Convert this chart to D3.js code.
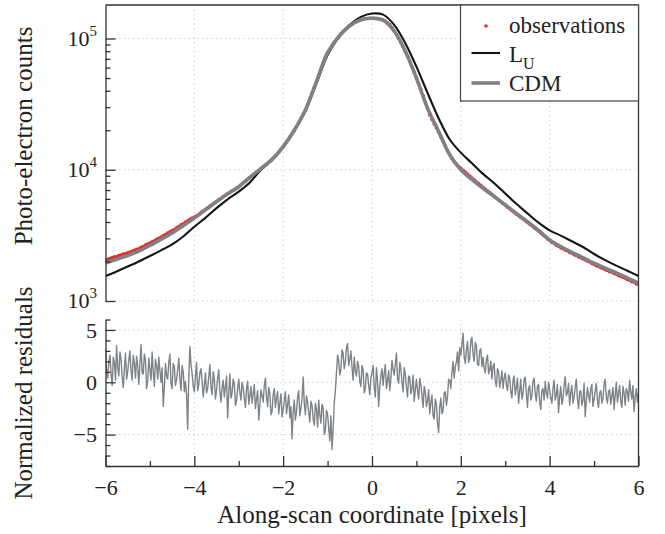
<!DOCTYPE html>
<html>
<head>
<meta charset="utf-8">
<script src="https://cdn.jsdelivr.net/npm/d3@7"></script>
<style>
  body { margin: 0; background: #fff; }
  svg, svg text { font-family: 'Liberation Serif', 'DejaVu Serif', serif; }
  text { fill: #222; }
  .grid line { stroke: #c4c4c4; stroke-width: 1; stroke-dasharray: 1.2,3.4; }
  .axis path, .axis line { stroke: #333; stroke-width: 1.3; }
  .axis text { font-size: 22px; fill: #222; }
  .spine { stroke: #333; stroke-width: 1.3; }
</style>
</head>
<body>
<svg></svg>
<script>
// ---- data ----
// observed LSF samples: -6 .. 6 px, step 0.05 px
var obsStart = -6, obsStep = 0.05;

var obsCounts = [
  2060, 2080, 2110, 2140, 2170, 2170, 2220, 2240, 2280, 2290, 2330, 2360, 2400, 2430, 2480, 2500, 2570, 2600, 2670, 2710,
  2760, 2820, 2880, 2950, 3010, 3070, 3140, 3210, 3290, 3360, 3440, 3510, 3610, 3690, 3800, 3880, 3990, 4090, 4200, 4290,
  4360, 4450, 4560, 4740, 4840, 5000, 5130, 5300, 5420, 5600, 5740, 5920, 6040, 6240, 6380, 6580, 6720, 6910, 7050, 7260,
  7420, 7650, 7930, 8150, 8430, 8700, 9010, 9300, 9620, 9850, 10150, 10450, 10800, 11150, 11550, 11950, 12430, 12950, 13550, 14250,
  14950, 15750, 16750, 17750, 18750, 19850, 21250, 22750, 24450, 26350, 28350, 31250, 34650, 38350, 42350, 46800, 52300, 58300, 64800, 71300,
  77000, 82000, 87100, 93400, 98500, 103600, 108600, 113600, 117600, 121500, 125400, 128800, 131700, 134600, 137100, 139100, 140500, 141500, 142200, 142500,
  142500, 142300, 141900, 140700, 139500, 137900, 135600, 132000, 127600, 121100, 114100, 107100, 100100, 93000, 86400, 79900, 73400, 66900, 60900, 55300,
  49800, 45400, 40900, 36800, 32800, 29300, 26100, 24100, 22300, 20800, 19300, 17800, 16450, 15200, 13950, 13000, 12150, 11500, 11050, 10600,
  10250, 9900, 9600, 9280, 8960, 8650, 8380, 8100, 7840, 7600, 7360, 7130, 6920, 6700, 6490, 6290, 6100, 5910, 5720, 5540,
  5380, 5180, 5040, 4870, 4750, 4590, 4470, 4320, 4210, 4080, 3970, 3840, 3740, 3610, 3520, 3400, 3300, 3180, 3090, 2970,
  2890, 2790, 2740, 2660, 2610, 2540, 2500, 2440, 2410, 2340, 2310, 2250, 2220, 2170, 2140, 2090, 2060, 2010, 1980, 1930,
  1900, 1860, 1830, 1790, 1770, 1730, 1710, 1670, 1660, 1620, 1600, 1560, 1545, 1510, 1490, 1455, 1440, 1400, 1390, 1350, 1335
];

// normalized residuals: -6 .. 6 px, step 0.025 px
var resStart = -6, resStep = 0.025;

var residuals = [
  3.2, 1.1, 0.4, 1.9, 2.6, 0.8, -0.3, 2.4, 1.9, 0.2, 3.5, 1.4, 0.6, 2.9, 2.2, 0.5, -0.5, 1.3, 2.8, 0.3,
  1.0, 2.2, 3.0, 1.1, 0.2, 2.6, 1.8, 0.4, 2.5, 1.5, -0.2, 1.7, 3.6, 0.9, 0.8, 2.7, 2.1, -0.6, 0.1, 2.3,
  1.2, 0.2, 2.9, 1.0, -0.4, 2.2, 1.6, 0.3, 2.4, 1.1, 0.0, 1.4, -2.3, -0.5, 1.8, 0.6, 0.3, 1.9, 2.7, -0.1,
  -0.6, 1.8, 1.5, -0.3, 0.2, 1.2, 2.3, 0.4, -0.8, 1.6, 1.0, -0.9, 0.1, -1.2, -4.5, 0.4, 3.4, 1.7, 0.8, -0.4,
  -0.9, 0.6, 1.9, -0.8, -0.2, 0.9, 1.3, 0.1, -1.4, -0.3, 0.9, -1.0, -0.6, 0.5, 1.7, -0.5, -1.2, 1.0, 0.3, -1.6,
  -0.8, 0.4, 1.2, -0.9, -1.9, -0.5, 0.2, -1.4, -0.4, 0.6, -3.4, -1.1, 0.8, -1.5, -1.0, 0.3, -0.1, -2.2, -1.8, -0.6,
  0.3, -1.0, -1.7, 0.0, -0.5, -1.5, -2.4, -0.6, 0.1, -2.1, -1.3, -0.4, -2.0, -1.1, -0.2, -2.5, -1.6, -0.8, -3.6, -2.2,
  -0.7, -1.3, -1.9, -0.3, 0.4, -1.4, -2.3, -0.5, -1.0, -3.1, -2.8, -1.2, -0.6, -2.4, -1.5, -0.9, -3.0, -2.0, -1.1, -3.3,
  -2.6, -1.8, -0.9, -3.0, -2.1, -1.2, -3.4, -2.3, -5.4, -2.9, -1.7, -3.6, -2.8, -1.4, -0.8, -3.2, -2.5, -1.6, 0.5, -2.0,
  -3.1, -1.3, -1.9, -2.9, -3.8, -1.8, -2.2, -3.5, -4.1, -2.0, -2.6, -4.3, -1.7, -3.1, -3.9, -2.1, -2.4, -5.0, -4.6, -2.7,
  -3.0, -4.4, -5.6, -3.2, -6.4, -4.5, -2.0, -0.8, 0.9, 2.6, 2.1, 0.7, 1.2, 3.1, 2.8, 1.3, 1.9, 3.3, 3.7, 1.6,
  2.2, 3.0, 1.4, 0.2, 2.4, 1.1, 0.6, 2.0, 1.5, 0.1, -0.4, 1.6, 1.2, -1.0, -0.6, 0.9, 0.8, -0.3, -1.2, 0.4,
  0.9, 1.6, -0.5, -1.4, 1.4, 0.1, -2.3, -0.4, 0.6, 1.3, -0.3, 0.9, 1.7, -0.6, 0.2, 1.1, -0.8, 0.4, 2.1, 1.2,
  0.7, 1.8, 2.8, 0.3, -0.1, 1.9, 1.3, 0.0, -0.9, 1.4, 0.8, -0.5, -1.4, 0.6, 0.5, -1.1, -0.6, 0.7, -1.8, -0.7,
  0.3, -0.8, -1.6, 0.4, -0.2, -1.3, -2.4, -0.4, -0.9, -2.3, -1.8, -0.7, -3.0, -2.0, -1.2, -3.2, -3.5, -1.6, -2.1, -3.9,
  -4.8, -2.4, -1.5, -3.0, -2.7, -1.0, -0.9, -2.2, -1.4, 0.3, 0.2, -0.6, 1.0, 2.0, 0.4, 1.5, 1.9, 2.9, 1.1, 3.3,
  2.6, 3.6, 4.7, 2.4, 1.8, 3.1, 3.9, 1.9, 2.3, 4.0, 4.3, 2.7, 2.0, 3.8, 3.5, 1.7, 1.6, 3.0, 3.2, 1.5,
  2.4, 1.3, 0.9, 2.2, 2.6, 0.8, 1.2, 2.0, 0.3, 1.5, 1.8, 0.1, -0.4, 1.3, 1.0, -0.5, 0.2, 1.1, -0.6, 0.4,
  0.9, -0.2, -0.8, 0.7, 0.4, -0.9, -1.5, 0.2, 0.6, -1.2, -0.5, 0.4, -2.0, -0.9, 0.3, -1.6, -1.1, 0.2, 0.5, -1.0,
  -2.4, -0.6, -0.3, -1.7, -1.3, 0.1, 0.4, -1.1, -1.8, -0.4, -0.2, -1.9, -2.6, -0.8, -0.6, -1.7, 0.1, -1.0, -1.5, 0.0,
  -0.7, -1.5, -2.0, -0.6, 0.2, -1.7, -1.2, -0.2, -2.9, -1.4, -0.4, -2.1, -1.6, -0.3, 0.5, -1.3, -1.0, -0.1, -2.2, -1.0,
  -0.3, -2.0, -1.4, -0.5, 0.3, -1.6, -2.5, -0.9, -0.8, -2.2, -1.7, -0.1, -3.3, -1.8, -0.5, -1.2, -1.9, -0.6, -0.2, -2.3,
  -1.6, -0.8, -0.1, -1.7, -2.4, -1.0, -0.8, -2.0, -1.5, -0.2, 0.3, -1.4, -2.0, -0.9, -0.7, -2.1, -1.3, -0.5, -2.6, -1.2,
  0.0, -1.9, -1.1, -0.3, -1.8, -2.4, -0.4, -1.0, -2.2, -0.6, -0.9, -1.8, 0.2, -0.9, -1.6, -0.3, -2.8, -1.4, -0.6, -1.9, -1.0
];

// models, every 0.25 px
var modelX = [-6, -5.75, -5.5, -5.25, -5, -4.75, -4.5, -4.25, -4, -3.75, -3.5, -3.25, -3, -2.75, -2.5, -2.25,
  -2, -1.75, -1.5, -1.25, -1, -0.75, -0.5, -0.25, 0, 0.25, 0.5, 0.75, 1, 1.25, 1.5, 1.75,
  2, 2.25, 2.5, 2.75, 3, 3.25, 3.5, 3.75, 4, 4.25, 4.5, 4.75, 5, 5.25, 5.5, 5.75, 6];

var luCounts = [1550, 1680, 1830, 2000, 2200, 2430, 2700, 3100, 3680, 4300, 5100, 5950, 6810, 8000, 10000, 11900,
  14800, 19800, 28000, 45500, 75000, 102000, 127000, 146000, 155000, 152000, 127000, 92000, 61000, 38500, 24700, 17000,
  13500, 11200, 9300, 7900, 6600, 5500, 4650, 3950, 3450, 3150, 2850, 2580, 2280, 2050, 1860, 1700, 1550];

var cdmCounts = [1950, 2080, 2220, 2400, 2650, 2950, 3300, 3750, 4280, 4950, 5710, 6550, 7430, 8750, 10200, 12000,
  15000, 20000, 28500, 47000, 78000, 103000, 125000, 139000, 142500, 138000, 114000, 80000, 50000, 29500, 19600, 13000,
  10000, 8400, 7230, 6250, 5390, 4650, 4020, 3450, 2920, 2600, 2350, 2140, 1940, 1780, 1640, 1500, 1365];

var xMajorTicks = [-6, -4, -2, 0, 2, 4, 6];
var countDecades = [1e3, 1e4, 1e5];
var residualMajorTicks = [-5, 0, 5];
var legendLabels = ['observations', 'L', 'CDM'];

// ---- layout ----
var width = 665, height = 534;
var left = 105.5, right = 638.5;
var topPanel = {top: 5, bottom: 301},
    resPanel = {top: 319.5, bottom: 466};
var serif = "'Liberation Serif', 'DejaVu Serif', serif";

var svg = d3.select('svg')
  .attr('width', width)
  .attr('height', height);

var x = d3.scaleLinear().domain([-6, 6]).range([left, right]);
var yCounts = d3.scaleLog().domain([1e3, 1.8e5]).range([topPanel.bottom, topPanel.top]);
var yRes = d3.scaleLinear().domain([-8, 6]).range([resPanel.bottom, resPanel.top]);

var obsX = obsCounts.map((d, i) => obsStart + i * obsStep);
var resX = residuals.map((d, i) => resStart + i * resStep);
var xGrid = xMajorTicks.filter(d => d > -6 && d < 6);

// ---- grids ----
var grid = svg.append('g').attr('class', 'grid');
[topPanel, resPanel].forEach(p => {
  grid.selectAll(null).data(xGrid).enter().append('line')
    .attr('x1', d => x(d)).attr('x2', d => x(d))
    .attr('y1', p.top).attr('y2', p.bottom);
});
grid.selectAll(null).data(countDecades).enter().append('line')
  .attr('x1', left).attr('x2', right)
  .attr('y1', d => yCounts(d)).attr('y2', d => yCounts(d));
grid.selectAll(null).data(residualMajorTicks).enter().append('line')
  .attr('x1', left).attr('x2', right)
  .attr('y1', d => yRes(d)).attr('y2', d => yRes(d));

// ---- top panel ----
svg.append('clipPath').attr('id', 'clipTop').append('rect')
  .attr('x', left).attr('y', topPanel.top)
  .attr('width', right - left).attr('height', topPanel.bottom - topPanel.top);
svg.append('clipPath').attr('id', 'clipRes').append('rect')
  .attr('x', left).attr('y', resPanel.top)
  .attr('width', right - left).attr('height', resPanel.bottom - resPanel.top);

var countsG = svg.append('g').attr('clip-path', 'url(#clipTop)');

countsG.selectAll('circle')
  .data(obsCounts)
  .enter()
  .append('circle')
  .attr('cx', (d, i) => x(obsX[i]))
  .attr('cy', d => yCounts(d))
  .attr('r', 1.8)
  .attr('fill', '#ec2a22');

var modelLine = d3.line()
  .x((d, i) => x(modelX[i]))
  .y(d => yCounts(d))
  .curve(d3.curveCatmullRom.alpha(0.5));

countsG.append('path')
  .attr('d', modelLine(luCounts))
  .attr('fill', 'none')
  .attr('stroke', '#141414')
  .attr('stroke-width', 2.1);

countsG.append('path')
  .attr('d', modelLine(cdmCounts))
  .attr('fill', 'none')
  .attr('stroke', '#7e8288')
  .attr('stroke-width', 3.6);

// ---- residual panel ----
var resLine = d3.line()
  .x((d, i) => x(resX[i]))
  .y(d => yRes(d));

svg.append('g').attr('clip-path', 'url(#clipRes)')
  .append('path')
  .attr('d', resLine(residuals))
  .attr('fill', 'none')
  .attr('stroke', '#7f8389')
  .attr('stroke-width', 1.4)
  .attr('stroke-linejoin', 'round');

// ---- axes ----
var countMinor = yCounts.ticks().filter(d => countDecades.indexOf(d) < 0);

svg.append('g').attr('class', 'axis')
  .attr('transform', 'translate(' + left + ',0)')
  .call(d3.axisLeft(yCounts).tickValues(countDecades).tickSize(-10).tickSizeOuter(0).tickFormat(''));
svg.append('g').attr('class', 'axis')
  .attr('transform', 'translate(' + left + ',0)')
  .call(d3.axisLeft(yCounts).tickValues(countMinor).tickSize(-5).tickSizeOuter(0).tickFormat(''))
  .select('.domain').remove();

var decadeLabel = svg.append('g').selectAll('text')
  .data(countDecades)
  .enter()
  .append('text')
  .attr('x', 97)
  .attr('y', d => yCounts(d) + 7)
  .attr('text-anchor', 'end')
  .style('font-family', serif)
  .style('font-size', '22px');
decadeLabel.append('tspan').text('10');
decadeLabel.append('tspan')
  .attr('dy', -10)
  .style('font-size', '15px')
  .text(d => Math.round(Math.log10(d)));

var resMinor = yRes.ticks(14).filter(d => residualMajorTicks.indexOf(d) < 0);
svg.append('g').attr('class', 'axis')
  .attr('transform', 'translate(' + left + ',0)')
  .call(d3.axisLeft(yRes).tickValues(residualMajorTicks).tickSize(-10).tickSizeOuter(0).tickPadding(8.5));
svg.append('g').attr('class', 'axis')
  .attr('transform', 'translate(' + left + ',0)')
  .call(d3.axisLeft(yRes).tickValues(resMinor).tickSize(-5).tickSizeOuter(0).tickFormat(''))
  .select('.domain').remove();

var xMinor = x.ticks(12).filter(d => xMajorTicks.indexOf(d) < 0);
svg.append('g').attr('class', 'axis')
  .attr('transform', 'translate(0,' + resPanel.bottom + ')')
  .call(d3.axisBottom(x).tickValues(xMajorTicks).tickSize(-10).tickSizeOuter(0).tickPadding(13));
svg.append('g').attr('class', 'axis')
  .attr('transform', 'translate(0,' + resPanel.bottom + ')')
  .call(d3.axisBottom(x).tickValues(xMinor).tickSize(-5).tickSizeOuter(0).tickFormat(''))
  .select('.domain').remove();

svg.selectAll('.axis text').style('font-family', serif);

// top and right spines
svg.append('line').attr('class', 'spine')
  .attr('x1', left).attr('x2', right).attr('y1', topPanel.top).attr('y2', topPanel.top);
svg.append('line').attr('class', 'spine')
  .attr('x1', right).attr('x2', right).attr('y1', topPanel.top).attr('y2', resPanel.bottom);

// ---- axis titles ----
svg.append('text')
  .attr('transform', 'translate(32,136)rotate(-90)')
  .attr('text-anchor', 'middle')
  .style('font-family', serif)
  .style('font-size', '25px')
  .text('Photo-electron counts');
svg.append('text')
  .attr('transform', 'translate(32,393)rotate(-90)')
  .attr('text-anchor', 'middle')
  .style('font-family', serif)
  .style('font-size', '25px')
  .text('Normalized residuals');
svg.append('text')
  .attr('x', x(0))
  .attr('y', 523)
  .attr('text-anchor', 'middle')
  .style('font-family', serif)
  .style('font-size', '25px')
  .text('Along-scan coordinate [pixels]');

// ---- legend ----
var legend = svg.append('g');
legend.append('rect')
  .attr('x', 460.5).attr('y', topPanel.top)
  .attr('width', right - 460.5).attr('height', 96)
  .attr('fill', '#fff')
  .attr('stroke', '#444')
  .attr('stroke-width', 1.2);

legend.append('circle')
  .attr('cx', 486).attr('cy', 26).attr('r', 1.8)
  .attr('fill', '#ec2a22');
legend.append('line')
  .attr('x1', 471.5).attr('x2', 500).attr('y1', 53).attr('y2', 53)
  .attr('stroke', '#141414').attr('stroke-width', 2.1);
legend.append('line')
  .attr('x1', 471.5).attr('x2', 500).attr('y1', 83).attr('y2', 83)
  .attr('stroke', '#7e8288').attr('stroke-width', 3.6);

var legendText = legend.selectAll('text')
  .data(legendLabels)
  .enter()
  .append('text')
  .attr('x', 509)
  .attr('y', (d, i) => 33 + i * 29)
  .style('font-family', serif)
  .style('font-size', '23px')
  .text(d => d);
legendText.filter(d => d === 'L')
  .append('tspan')
  .attr('dy', 7)
  .style('font-size', '16px')
  .text('U');
</script>
</body>
</html>
